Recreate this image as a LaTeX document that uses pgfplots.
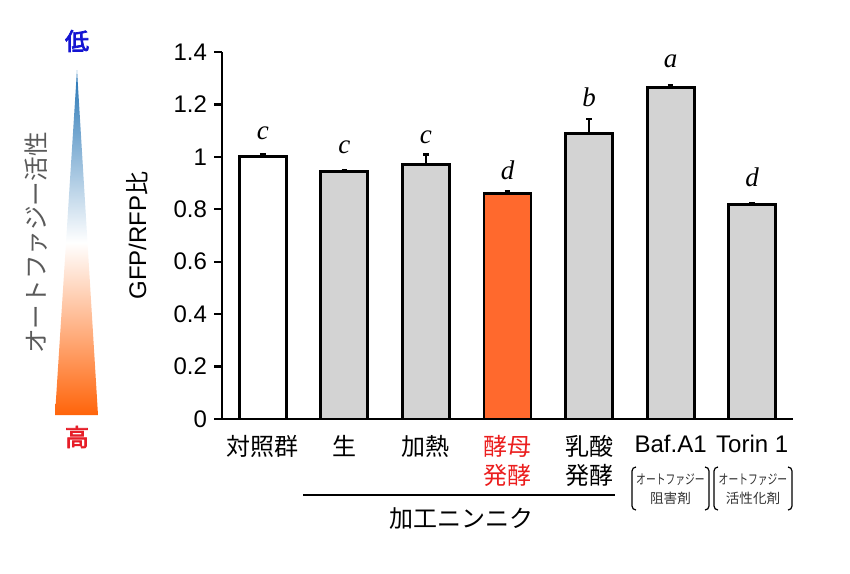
\documentclass[border=0pt]{standalone}
\usepackage{pgfplots}
\pgfplotsset{compat=1.18}
\usepackage{fontspec}
\setmainfont{Liberation Sans}
\newfontfamily\jp{Noto Sans CJK JP}
\newfontfamily\jpb{Noto Sans CJK JP}[FakeBold=3]
\newfontfamily\tms{Liberation Serif}
\definecolor{barorange}{RGB}{255,105,45}
\definecolor{bargray}{RGB}{211,211,211}
\definecolor{labred}{RGB}{235,30,30}
\definecolor{lowblue}{RGB}{20,20,210}
\definecolor{highred}{RGB}{230,30,40}
\definecolor{tblue}{RGB}{35,115,180}
\definecolor{torange}{RGB}{255,100,10}
\definecolor{tgray}{RGB}{90,90,90}

\begin{document}
\begin{tikzpicture}
\path[use as bounding box] (0,0) rectangle (425pt,-286.5pt);
\begin{axis}[
  at={(111pt,-209.5pt)}, anchor=south west,
  scale only axis, width=285.5pt, height=183.5pt,
  xmin=-0.5, xmax=6.5, ymin=0, ymax=1.4,
  axis x line=bottom, axis y line=left,
  axis line style={-, line width=1.2pt, black},
  ybar, bar width=23.5pt,
  ytick={0,0.2,0.4,0.6,0.8,1,1.2,1.4},
  yticklabels={0,0.2,0.4,0.6,0.8,1,1.2,1.4},
  tick align=outside, major tick length=4pt,
  y tick style={line width=1.2pt, black},
  x tick style={draw=none},
  xtick={0,1,2,3,4,5,6},
  xticklabels={{\jp 対照群},{\jp 生},{\jp 加熱},{\jp\color{labred}酵母\\\jp\color{labred}発酵},{\jp 乳酸\\\jp 発酵},{Baf.A1},{Torin 1}},
  xticklabel style={align=center, anchor=north, font=\fontsize{12}{14.6}\selectfont, yshift=-0.5pt},
  yticklabel style={font=\fontsize{12}{14}\selectfont},
  ylabel={GFP/RFP{\jp 比}},
  y label style={at={(axis description cs:-0.149,0.5)}, anchor=center, font=\fontsize{12}{14}\selectfont},
  clip=false,
  every axis plot/.append style={bar shift=0pt, draw=black, line width=1.4pt,
    error bars/y dir=plus, error bars/y explicit,
    error bars/error bar style={line width=1.1pt, black},
    error bars/error mark options={rotate=90, mark size=1.4pt, line width=1.1pt, black}},
]
\addplot[fill=white] coordinates {(0,1.000) +- (0,0.011)};
\addplot[fill=bargray] coordinates {(1,0.944) +- (0,0.007) (2,0.971) +- (0,0.038)};
\addplot[fill=barorange] coordinates {(3,0.859) +- (0,0.011)};
\addplot[fill=bargray] coordinates {(4,1.090) +- (0,0.053) (5,1.266) +- (0,0.009) (6,0.818) +- (0,0.004)};
\begin{scope}[every node/.style={font=\tms\itshape\fontsize{13.5}{13.5}\selectfont, anchor=base, inner sep=0pt}]
\node at (axis cs:0,1.065) {c};
\node at (axis cs:1,1.011) {c};
\node at (axis cs:2,1.052) {c};
\node at (axis cs:3,0.913) {d};
\node at (axis cs:4,1.194) {b};
\node at (axis cs:5,1.341) {a};
\node at (axis cs:6,0.887) {d};
\end{scope}
\end{axis}
\begin{scope}[x=0.5pt, y=-0.5pt]
  % gradient triangle
  \shade[top color=tblue, bottom color=torange, middle color=white] (77,70) -- (98,415) -- (55,415) -- cycle;
  \node[font=\jpb\fontsize{12}{12}\selectfont, text=lowblue] at (77,41) {低};
  \node[font=\jpb\fontsize{12}{12}\selectfont, text=highred] at (77,437) {高};
  \node[rotate=90, font=\jp\fontsize{12.3}{12}\selectfont, text=tgray] at (36,243) {オートファジー活性};
  % processed garlic group line
  \draw[line width=1.25pt] (303,495) -- (615,495);
  \node[font=\jp\fontsize{12}{12}\selectfont] at (461,519) {加工ニンニク};
  % brackets
  \draw[line width=0.6pt, rounded corners=2pt] (636,467) -- (632,467) -- (632,510) -- (636,510);
  \draw[line width=0.6pt, rounded corners=2pt] (705,467) -- (709,467) -- (709,510) -- (705,510);
  \draw[line width=0.6pt, rounded corners=2pt] (718,467) -- (714,467) -- (714,510) -- (718,510);
  \draw[line width=0.6pt, rounded corners=2pt] (788,467) -- (792,467) -- (792,510) -- (788,510);
  \node[font=\jp\fontsize{6.8}{6.8}\selectfont, text=black!80] at (670.5,480) {\scalebox{0.72}[1]{オートファジー}};
  \node[font=\jp\fontsize{6.8}{6.8}\selectfont, text=black!80] at (670.5,498) {阻害剤};
  \node[font=\jp\fontsize{6.8}{6.8}\selectfont, text=black!80] at (753,480) {\scalebox{0.72}[1]{オートファジー}};
  \node[font=\jp\fontsize{6.8}{6.8}\selectfont, text=black!80] at (753,498) {活性化剤};
\end{scope}
\end{tikzpicture}
\end{document}
